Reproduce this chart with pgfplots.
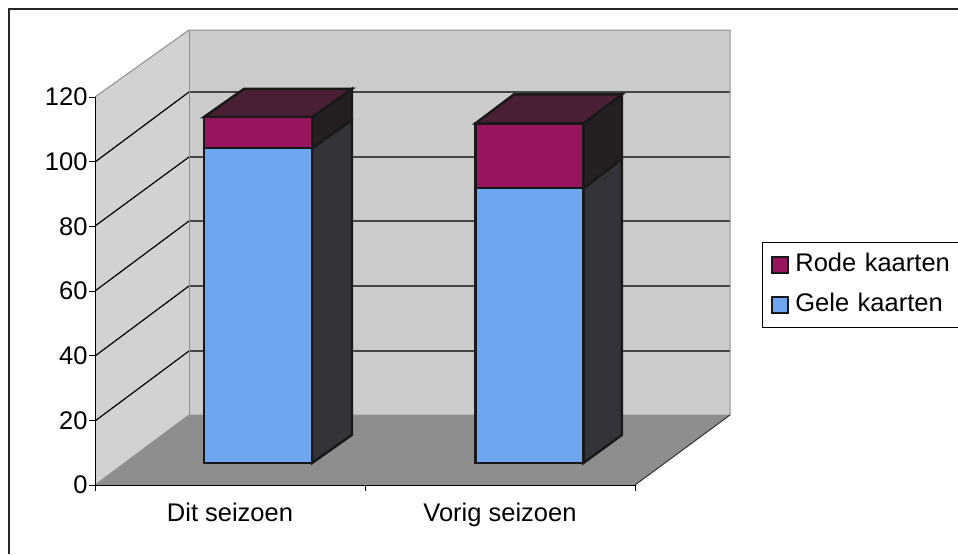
\documentclass[border=0pt]{standalone}
\usepackage{fontspec}
\setmainfont{Liberation Sans}
\usepackage{pgfplots}
\pgfplotsset{compat=1.18}
\definecolor{wallback}{HTML}{CBCBCB}
\definecolor{wallside}{HTML}{D2D2D2}
\definecolor{floorc}{HTML}{8E8E8E}
\definecolor{edgeg}{HTML}{8F8F8F}
\definecolor{blauw}{HTML}{6FA6F0}
\definecolor{rood}{HTML}{96155C}
\definecolor{roodtop}{HTML}{4A1F36}
\definecolor{roodside}{HTML}{241F20}
\definecolor{blauwside}{HTML}{33343A}
\newcommand{\lab}{\fontsize{25.5}{30}\selectfont}
\begin{document}
\begin{tikzpicture}[x=1pt,y=1pt]
\useasboundingbox (0,0) rectangle (958,554);
% page geometry: walls, floor, gridlines, frame
\begin{axis}[at={(0,0)},anchor=south west,scale only axis,width=958pt,height=554pt,
  xmin=0,xmax=958,ymin=0,ymax=554,y dir=reverse,hide axis,clip=false]
\addplot[fill=wallside,draw=none] coordinates {(95,97)(189,30)(189,415)(95,485)} -- cycle;
\addplot[fill=wallback,draw=none] coordinates {(189,30)(730,30)(730,415)(189,415)} -- cycle;
\addplot[fill=floorc,draw=none] coordinates {(95,485)(189,415)(730,415)(635,485)} -- cycle;
% gridlines
\addplot[black,line width=1.2pt] coordinates {(95,421)(189,351)(730,351)};
\addplot[black,line width=1.2pt] coordinates {(95,356)(189,286)(730,286)};
\addplot[black,line width=1.2pt] coordinates {(95,291)(189,221)(730,221)};
\addplot[black,line width=1.2pt] coordinates {(95,226)(189,157)(730,157)};
\addplot[black,line width=1.2pt] coordinates {(95,162)(189,92)(730,92)};
% wall edges
\addplot[edgeg,line width=1pt] coordinates {(95,97)(189,30)(730,30)(730,415)(189,415)(95,485)};
\addplot[edgeg,line width=1pt] coordinates {(189,30)(189,415)};
\addplot[black!80,line width=1pt] coordinates {(635,485)(730,415)};
% frame
\addplot[black!85,line width=1.6pt] coordinates {(9,554)(9,9)(958,9)};
\end{axis}
% front plane: the value and category axes
\begin{axis}[at={(95pt,69pt)},anchor=south west,scale only axis,width=540pt,height=388pt,
  xmin=0,xmax=2,ymin=0,ymax=120,clip=false,
  axis x line=bottom,axis y line=left,axis line style={-,black,line width=0.9pt},
  xtick={0,1,2},xticklabels={Dit seizoen,Vorig seizoen},x tick label as interval,
  ytick={0,20,40,60,80,100,120},
  tick style={black,line width=0.9pt},
  major tick length=6pt,
  tick align=outside,
  /pgf/number format/assume math mode=true,
  every tick label/.append style={font=\lab},
  xticklabel style={yshift=-8pt},
  yticklabel style={xshift=2pt}]
\end{axis}
% side and top faces of the bars
\begin{axis}[at={(123pt,91pt)},anchor=south west,scale only axis,width=540pt,height=388pt,
  xmin=0,xmax=2,ymin=0,ymax=120,clip=false,hide axis]
\addplot[fill=blauwside,draw=black!90,line width=2.5pt] coordinates {(0.7,0)(0.7,97.4)(0.848,106.1)(0.848,8.7)} -- cycle;
\addplot[fill=roodside,draw=black!90,line width=2.5pt] coordinates {(0.7,97.4)(0.7,107)(0.848,115.7)(0.848,106.1)} -- cycle;
\addplot[fill=roodtop,draw=black!90,line width=2.5pt] coordinates {(0.3,107)(0.7,107)(0.848,115.7)(0.448,115.7)} -- cycle;
\addplot[fill=blauwside,draw=black!90,line width=2.5pt] coordinates {(1.705,0)(1.705,85)(1.848,94)(1.848,8.7)} -- cycle;
\addplot[fill=roodside,draw=black!90,line width=2.5pt] coordinates {(1.705,85)(1.705,105)(1.848,114)(1.848,94)} -- cycle;
\addplot[fill=roodtop,draw=black!90,line width=2.5pt] coordinates {(1.305,105)(1.705,105)(1.848,114)(1.448,114)} -- cycle;
\end{axis}
% front faces of the bars and the legend
\begin{axis}[at={(123pt,91pt)},anchor=south west,scale only axis,width=540pt,height=388pt,
  xmin=0,xmax=2,ymin=0,ymax=120,clip=false,hide axis,
  ybar stacked,bar width=108pt,
  reverse legend,
  legend cell align=left,
  legend style={at={(1.183,0.5696)},anchor=north west,draw=black,line width=0.8pt,
    fill=white,font=\lab,inner xsep=9pt,inner ysep=10pt,row sep=15pt,
    nodes={inner sep=0pt,text height=19pt,text depth=6pt},
    cells={text width=190pt}},
  legend image code/.code={\draw[#1,line width=1.8pt] (0pt,-8pt) rectangle (16pt,8pt);\path (22pt,0pt);}]
\addplot[fill=blauw,draw=black!90,line width=2.5pt] coordinates {(0.5,97.4)(1.505,85)};
\addlegendentry{Gele kaarten}
\addplot[fill=rood,draw=black!90,line width=2.5pt] coordinates {(0.5,9.6)(1.505,20)};
\addlegendentry{Rode kaarten}
\end{axis}
\end{tikzpicture}
\end{document}
